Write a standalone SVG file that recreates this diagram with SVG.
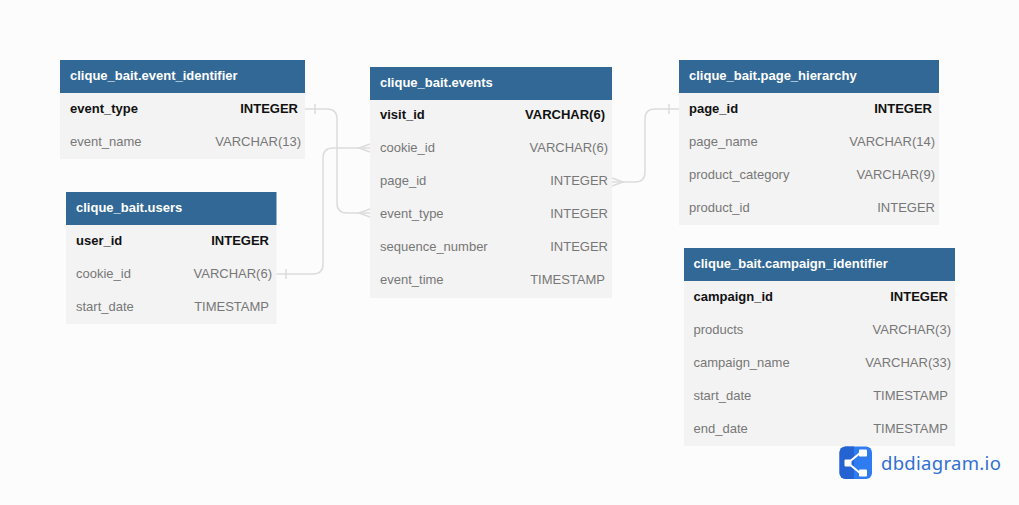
<svg xmlns="http://www.w3.org/2000/svg" width="1019" height="505" viewBox="0 0 1019 505">
<style>
text{font-family:"Liberation Sans",Arial,sans-serif;font-size:13px}
.hd{fill:#316896}
.bd{fill:#f3f3f3}
.t{fill:#fff;font-weight:700}
.n{fill:#777}
.ty{fill:#777;text-anchor:end}
.pk{fill:#111;font-weight:700}
.pt{fill:#111;text-anchor:end;font-weight:700}
.c{fill:none;stroke:#dcdcdc;stroke-width:1.500}
.logo{font-family:"Noto Sans","Open Sans",sans-serif;font-size:18.500px;fill:#3070d2;letter-spacing:.3px}
</style>
<rect width="1019" height="505" fill="#fcfcfc"/>
<g id="connectors">
<path class="c" d="M305 109H327Q337 109 337 119V203Q337 213 347 213H370"/>
<path class="c" d="M315 104V114M370 209L359 213L370 217"/>
<path class="c" d="M276 274H313Q323 274 323 264V158Q323 148 333 148H370"/>
<path class="c" d="M286 269V279M370 144L359 148L370 152"/>
<path class="c" d="M612 182H635Q645 182 645 172V119Q645 109 655 109H679"/>
<path class="c" d="M669 104V114M612 178L623 182L612 186"/>
</g>
<g id="event_identifier">
<rect class="bd" x="60" y="93" width="245" height="66"/><rect class="hd" x="60" y="60" width="245" height="33"/>
<text class="t" x="70" y="80">clique_bait.event_identifier</text>
<text class="pk" x="70" y="113">event_type</text><text class="pt" x="298" y="113">INTEGER</text>
<text class="n" x="70" y="146">event_name</text><text class="ty" x="301" y="146">VARCHAR(13)</text>
</g>
<g id="users">
<rect class="bd" x="66" y="225" width="210.500" height="99"/><rect class="hd" x="66" y="192" width="210.500" height="33"/>
<text class="t" x="76" y="212">clique_bait.users</text>
<text class="pk" x="76" y="245">user_id</text><text class="pt" x="269" y="245">INTEGER</text>
<text class="n" x="76" y="278">cookie_id</text><text class="ty" x="272" y="278">VARCHAR(6)</text>
<text class="n" x="76" y="311">start_date</text><text class="ty" x="269" y="311">TIMESTAMP</text>
</g>
<g id="events">
<rect class="bd" x="370" y="100" width="242" height="198"/><rect class="hd" x="370" y="67" width="242" height="33"/>
<text class="t" x="380" y="87">clique_bait.events</text>
<text class="pk" x="380" y="119">visit_id</text><text class="pt" x="605" y="119">VARCHAR(6)</text>
<text class="n" x="380" y="152">cookie_id</text><text class="ty" x="608" y="152">VARCHAR(6)</text>
<text class="n" x="380" y="185">page_id</text><text class="ty" x="608" y="185">INTEGER</text>
<text class="n" x="380" y="218">event_type</text><text class="ty" x="608" y="218">INTEGER</text>
<text class="n" x="380" y="251">sequence_number</text><text class="ty" x="608" y="251">INTEGER</text>
<text class="n" x="380" y="284">event_time</text><text class="ty" x="605" y="284">TIMESTAMP</text>
</g>
<g id="page_hierarchy">
<rect class="bd" x="679" y="93" width="260" height="132"/><rect class="hd" x="679" y="60" width="260" height="33"/>
<text class="t" x="689" y="80">clique_bait.page_hierarchy</text>
<text class="pk" x="689" y="113">page_id</text><text class="pt" x="932" y="113">INTEGER</text>
<text class="n" x="689" y="146">page_name</text><text class="ty" x="935" y="146">VARCHAR(14)</text>
<text class="n" x="689" y="179">product_category</text><text class="ty" x="935" y="179">VARCHAR(9)</text>
<text class="n" x="689" y="212">product_id</text><text class="ty" x="935" y="212">INTEGER</text>
</g>
<g id="campaign_identifier">
<rect class="bd" x="684" y="281" width="271" height="165"/><rect class="hd" x="684" y="248" width="271" height="33"/>
<text class="t" x="693.500" y="268">clique_bait.campaign_identifier</text>
<text class="pk" x="693.500" y="301">campaign_id</text><text class="pt" x="948" y="301">INTEGER</text>
<text class="n" x="693.500" y="334">products</text><text class="ty" x="951" y="334">VARCHAR(3)</text>
<text class="n" x="693.500" y="367">campaign_name</text><text class="ty" x="951" y="367">VARCHAR(33)</text>
<text class="n" x="693.500" y="400">start_date</text><text class="ty" x="948" y="400">TIMESTAMP</text>
<text class="n" x="693.500" y="433">end_date</text><text class="ty" x="948" y="433">TIMESTAMP</text>
</g>
<g id="logo">
<rect x="839.500" y="446.500" width="32.500" height="32.500" rx="6" fill="#2f7cf0"/>
<path d="M854 446.500H845.500a6 6 0 0 0-6 6V473a6 6 0 0 0 6 6H854Z" fill="#2563d2"/>
<path d="M848 463L860 453H866M848 463L860 473H866" stroke="#fff" stroke-width="2" fill="none"/>
<rect x="844.500" y="459.500" width="7" height="7" rx="1" fill="#fff"/>
<rect x="859" y="449.500" width="8" height="7" rx="1" fill="#fff"/>
<rect x="859" y="469.500" width="8" height="7" rx="1" fill="#fff"/>
<text class="logo" x="881" y="470">dbdiagram.io</text>
</g>
</svg>
